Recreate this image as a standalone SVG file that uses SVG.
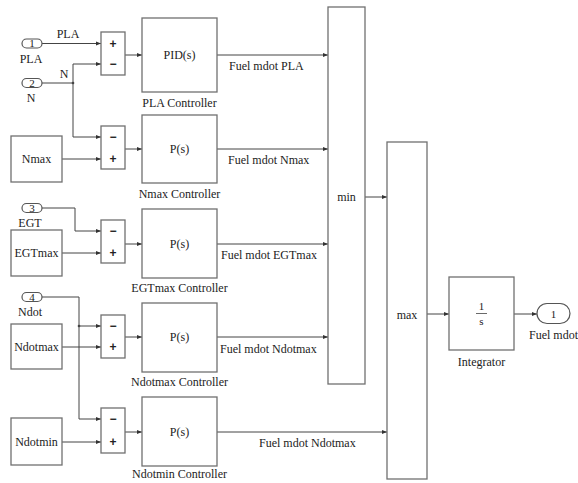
<svg xmlns="http://www.w3.org/2000/svg" width="578" height="483" viewBox="0 0 578 483" font-family="'Liberation Serif', 'DejaVu Serif', serif">
<style>
text{font-family:'Liberation Serif','DejaVu Serif',serif;font-size:12px;fill:#222}
.c{text-anchor:middle}
.blk{fill:#fff;stroke:#707070;stroke-width:1.3}
.port{fill:#fff;stroke:#555;stroke-width:1.2}
.ln{fill:none;stroke:#444;stroke-width:1;marker-end:url(#ah)}
.ln0{fill:none;stroke:#444;stroke-width:1}
.sg{font-family:'Liberation Sans','DejaVu Sans',sans-serif;font-size:12px;font-weight:bold;text-anchor:middle}
.sm{font-size:11px}
</style>
<defs>
<marker id="ah" markerUnits="userSpaceOnUse" markerWidth="6" markerHeight="6" refX="5" refY="2.5" orient="auto">
<path d="M0,0.5 L5,2.5 L0,4.5 Z" fill="#333"/>
</marker>
</defs>
<rect width="578" height="483" fill="#fff"/>

<g id="connectors">
<path class="ln" d="M42 43.5 H101"/>
<path class="ln0" d="M42 83 H73"/>
<path class="ln" d="M73 83 V64 H101"/>
<path class="ln" d="M73 83 V137 H101"/>
<circle cx="73" cy="83" r="1.3" fill="#444"/>
<path class="ln" d="M62 159 H101"/>
<path class="ln" d="M42 208 H75 V231 H101"/>
<path class="ln" d="M62 253 H101"/>
<path class="ln" d="M42 297 H79 V419 H101"/>
<path class="ln" d="M79 326 H101"/>
<circle cx="79" cy="326" r="1.3" fill="#444"/>
<path class="ln" d="M62 347 H101"/>
<path class="ln" d="M62 442 H101"/>
<path class="ln" d="M125 55 H142"/>
<path class="ln" d="M125 149 H142"/>
<path class="ln" d="M125 244 H142"/>
<path class="ln" d="M125 337 H142"/>
<path class="ln" d="M125 432 H142"/>
<path class="ln" d="M217 55 H328"/>
<path class="ln" d="M217 149 H328"/>
<path class="ln" d="M217 244 H328"/>
<path class="ln" d="M217 337 H328"/>
<path class="ln" d="M217 432 H387"/>
<path class="ln" d="M365 197 H387"/>
<path class="ln" d="M427 314 H449"/>
<path class="ln" d="M514 314 H537"/>
<text x="68" y="38" class="c">PLA</text>
<text x="64" y="78" class="c">N</text>
<text x="229" y="70">Fuel mdot PLA</text>
<text x="228" y="164">Fuel mdot Nmax</text>
<text x="221" y="259">Fuel mdot EGTmax</text>
<text x="220" y="353">Fuel mdot Ndotmax</text>
<text x="259" y="447">Fuel mdot Ndotmax</text>
</g>

<g id="in1"><rect class="port" x="22" y="39" width="20" height="9" rx="4.5"/><text x="32" y="47" class="c sm">1</text><text x="31" y="63" class="c">PLA</text></g>
<g id="in2"><rect class="port" x="22" y="78.5" width="20" height="9" rx="4.5"/><text x="32" y="87" class="c sm">2</text><text x="31" y="102" class="c">N</text></g>
<g id="in3"><rect class="port" x="22" y="203.5" width="20" height="9" rx="4.5"/><text x="32" y="212" class="c sm">3</text><text x="30" y="227" class="c">EGT</text></g>
<g id="in4"><rect class="port" x="22" y="292.5" width="20" height="9" rx="4.5"/><text x="32" y="301" class="c sm">4</text><text x="30" y="316" class="c">Ndot</text></g>

<g id="Nmax"><rect class="blk" x="11" y="136" width="51" height="46"/><text x="36.5" y="163" class="c">Nmax</text></g>
<g id="EGTmax"><rect class="blk" x="11" y="230" width="51" height="46"/><text x="36.5" y="257" class="c">EGTmax</text></g>
<g id="Ndotmax"><rect class="blk" x="11" y="324" width="51" height="45"/><text x="36.5" y="351" class="c">Ndotmax</text></g>
<g id="Ndotmin"><rect class="blk" x="11" y="418" width="51" height="47"/><text x="36.5" y="446" class="c">Ndotmin</text></g>

<g id="sum1"><rect class="blk" x="101" y="32" width="24" height="43"/><text x="113" y="48" class="sg">+</text><text x="113" y="68" class="sg">−</text></g>
<g id="sum2"><rect class="blk" x="101" y="126" width="24" height="43"/><text x="113" y="141" class="sg">−</text><text x="113" y="163" class="sg">+</text></g>
<g id="sum3"><rect class="blk" x="101" y="220" width="24" height="43"/><text x="113" y="235" class="sg">−</text><text x="113" y="257" class="sg">+</text></g>
<g id="sum4"><rect class="blk" x="101" y="315" width="24" height="43"/><text x="113" y="330" class="sg">−</text><text x="113" y="351" class="sg">+</text></g>
<g id="sum5"><rect class="blk" x="101" y="408" width="24" height="45"/><text x="113" y="423" class="sg">−</text><text x="113" y="446" class="sg">+</text></g>

<g id="PLAController"><rect class="blk" x="142" y="18" width="75" height="74"/><text x="179.5" y="59" class="c">PID(s)</text><text x="179.5" y="107" class="c">PLA Controller</text></g>
<g id="NmaxController"><rect class="blk" x="142" y="115" width="75" height="68"/><text x="179.5" y="153" class="c">P(s)</text><text x="179.5" y="198" class="c">Nmax Controller</text></g>
<g id="EGTmaxController"><rect class="blk" x="142" y="209" width="75" height="69"/><text x="179.5" y="248" class="c">P(s)</text><text x="179.5" y="292" class="c">EGTmax Controller</text></g>
<g id="NdotmaxController"><rect class="blk" x="142" y="303" width="75" height="69"/><text x="179.5" y="341" class="c">P(s)</text><text x="179.5" y="386" class="c">Ndotmax Controller</text></g>
<g id="NdotminController"><rect class="blk" x="142" y="397" width="75" height="69"/><text x="179.5" y="436" class="c">P(s)</text><text x="179.5" y="478" class="c">Ndotmin Controller</text></g>

<g id="min"><rect class="blk" x="328" y="7" width="37" height="377"/><text x="346.5" y="201" class="c">min</text></g>
<g id="max"><rect class="blk" x="387" y="142" width="40" height="337"/><text x="407" y="319" class="c">max</text></g>

<g id="Integrator"><rect class="blk" x="449" y="277" width="65" height="73"/><text x="481.5" y="310" class="c sm">1</text><line x1="476" y1="313.5" x2="487" y2="313.5" stroke="#444" stroke-width="0.8"/><text x="481.5" y="325" class="c sm">s</text><text x="481.5" y="366" class="c">Integrator</text></g>

<g id="out1"><rect class="port" x="537" y="303.5" width="33" height="20" rx="10"/><text x="553.5" y="318" class="c sm">1</text><text x="529" y="339">Fuel mdot</text></g>
</svg>
